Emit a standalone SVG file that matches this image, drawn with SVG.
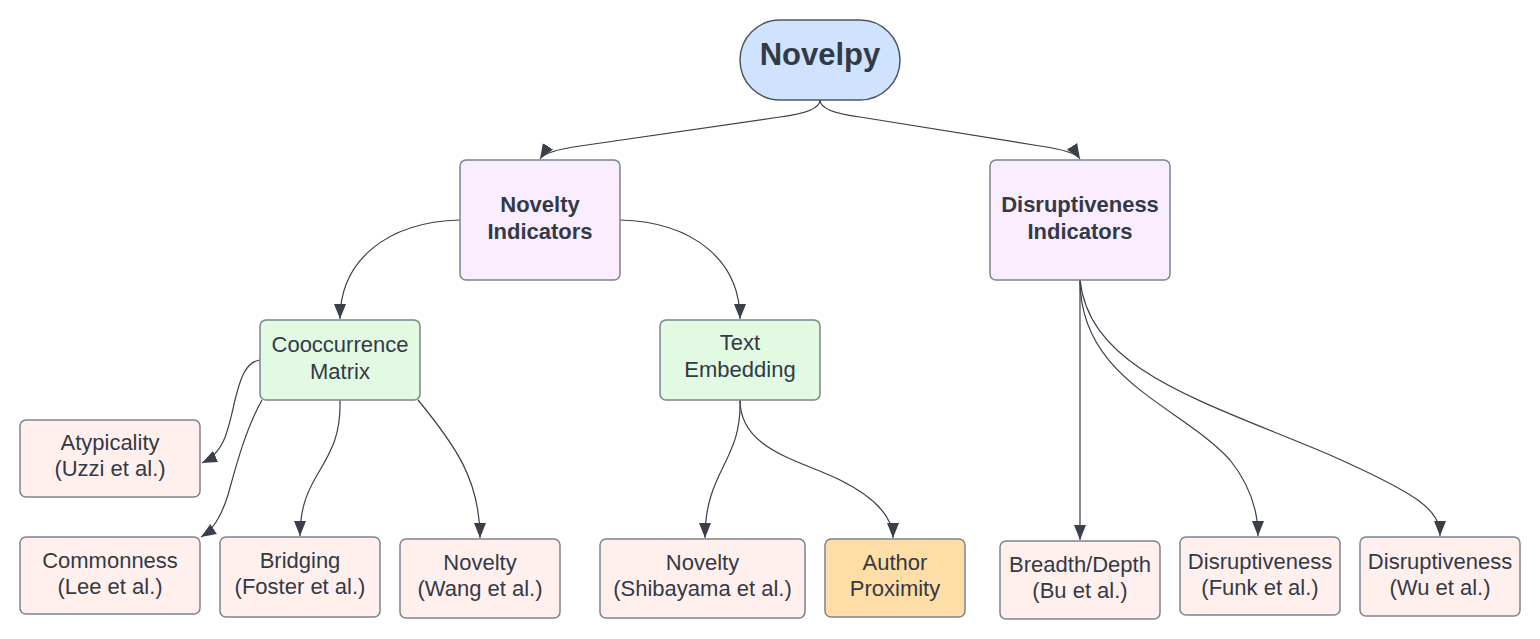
<svg xmlns="http://www.w3.org/2000/svg" width="1540" height="639" viewBox="0 0 1540 639">
<style>
  text { font-family: "Liberation Sans", Arial, sans-serif; font-size: 22px; fill: #333a45; text-anchor: middle; }
  .b { font-weight: bold; }
  .t { font-size: 31px; font-weight: bold; }
  .n { stroke: #7d838e; stroke-width: 1.5; }
  .root { fill: #cfe3ff; stroke: #4f5662; }
  .purple { fill: #f9edff; }
  .green { fill: #e2f9e2; }
  .pink { fill: #fff0ee; }
  .orange { fill: #ffdda6; }
  .edge { fill: none; stroke: #3a404a; stroke-width: 1.2; marker-end: url(#arr); }
</style>
<defs>
  <marker id="arr" markerWidth="16" markerHeight="16" viewBox="0 0 16 16" refX="15" refY="8" orient="auto" markerUnits="userSpaceOnUse">
    <path d="M0,2 L15,8 L0,14 Z" fill="#3a404a"/>
  </marker>
</defs>
<rect width="1540" height="639" fill="#ffffff"/>
<g id="connectors">
  <path class="edge" d="M820,100 Q820,112 780,117 L580,146 Q545,151 540,159"/>
  <path class="edge" d="M820,100 Q820,112 860,117 L1040,146 Q1075,151 1080,159"/>
  <path class="edge" d="M460,220 C385,222 340,262 340,319"/>
  <path class="edge" d="M620,220 C695,222 740,262 740,319"/>
  <path class="edge" d="M260,360 C245,362 240,380 235,400 C228,430 225,452 202,463"/>
  <path class="edge" d="M262,400 C245,430 235,470 228,495 C220,520 212,530 201,537"/>
  <path class="edge" d="M340,400 C342,468 300,470 300,536"/>
  <path class="edge" d="M418,400 C455,445 480,480 480,538"/>
  <path class="edge" d="M740,400 C742,462 705,470 705,538"/>
  <path class="edge" d="M740,400 C740,450 800,460 840,480 C880,500 893,520 893,538"/>
  <path class="edge" d="M1080,280 L1080,540"/>
  <path class="edge" d="M1080,280 C1080,380 1180,405 1230,460 C1250,485 1258,510 1258,536"/>
  <path class="edge" d="M1080,280 C1090,370 1200,400 1330,455 C1420,495 1440,510 1440,536"/>
</g>
<g id="novelpy"><rect class="n root" x="740" y="20" width="160" height="80" rx="40" ry="40"/><text class="t" x="820" y="65">Novelpy</text></g>
<g id="novelty-indicators"><rect class="n purple" x="460" y="160" width="160" height="120" rx="6"/><text class="b" x="540" y="212">Novelty</text><text class="b" x="540" y="239">Indicators</text></g>
<g id="disruptiveness-indicators"><rect class="n purple" x="990" y="160" width="180" height="120" rx="6"/><text class="b" x="1080" y="212">Disruptiveness</text><text class="b" x="1080" y="239">Indicators</text></g>
<g id="cooccurrence"><rect class="n green" x="260" y="320" width="160" height="80" rx="6"/><text x="340" y="352">Cooccurrence</text><text x="340" y="379">Matrix</text></g>
<g id="text-embedding"><rect class="n green" x="660" y="320" width="160" height="80" rx="6"/><text x="740" y="350">Text</text><text x="740" y="377">Embedding</text></g>
<g id="atypicality"><rect class="n pink" x="20" y="420" width="180" height="77" rx="6"/><text x="110" y="450">Atypicality</text><text x="110" y="476">(Uzzi et al.)</text></g>
<g id="commonness"><rect class="n pink" x="20" y="537" width="180" height="77" rx="6"/><text x="110" y="568">Commonness</text><text x="110" y="594">(Lee et al.)</text></g>
<g id="bridging"><rect class="n pink" x="220" y="537" width="160" height="80" rx="6"/><text x="300" y="568">Bridging</text><text x="300" y="594">(Foster et al.)</text></g>
<g id="novelty-wang"><rect class="n pink" x="400" y="539" width="160" height="79" rx="6"/><text x="480" y="570">Novelty</text><text x="480" y="596">(Wang et al.)</text></g>
<g id="novelty-shibayama"><rect class="n pink" x="600" y="539" width="205" height="79" rx="6"/><text x="702.5" y="570">Novelty</text><text x="702.5" y="596">(Shibayama et al.)</text></g>
<g id="author-proximity"><rect class="n orange" x="825" y="539" width="140" height="78" rx="6"/><text x="895" y="570">Author</text><text x="895" y="596">Proximity</text></g>
<g id="breadth-depth"><rect class="n pink" x="1000" y="541" width="160" height="78" rx="6"/><text x="1080" y="572">Breadth/Depth</text><text x="1080" y="598">(Bu et al.)</text></g>
<g id="disruptiveness-funk"><rect class="n pink" x="1180" y="537" width="160" height="78" rx="6"/><text x="1260" y="569">Disruptiveness</text><text x="1260" y="595">(Funk et al.)</text></g>
<g id="disruptiveness-wu"><rect class="n pink" x="1360" y="537" width="160" height="79" rx="6"/><text x="1440" y="569">Disruptiveness</text><text x="1440" y="595">(Wu et al.)</text></g>
</svg>
